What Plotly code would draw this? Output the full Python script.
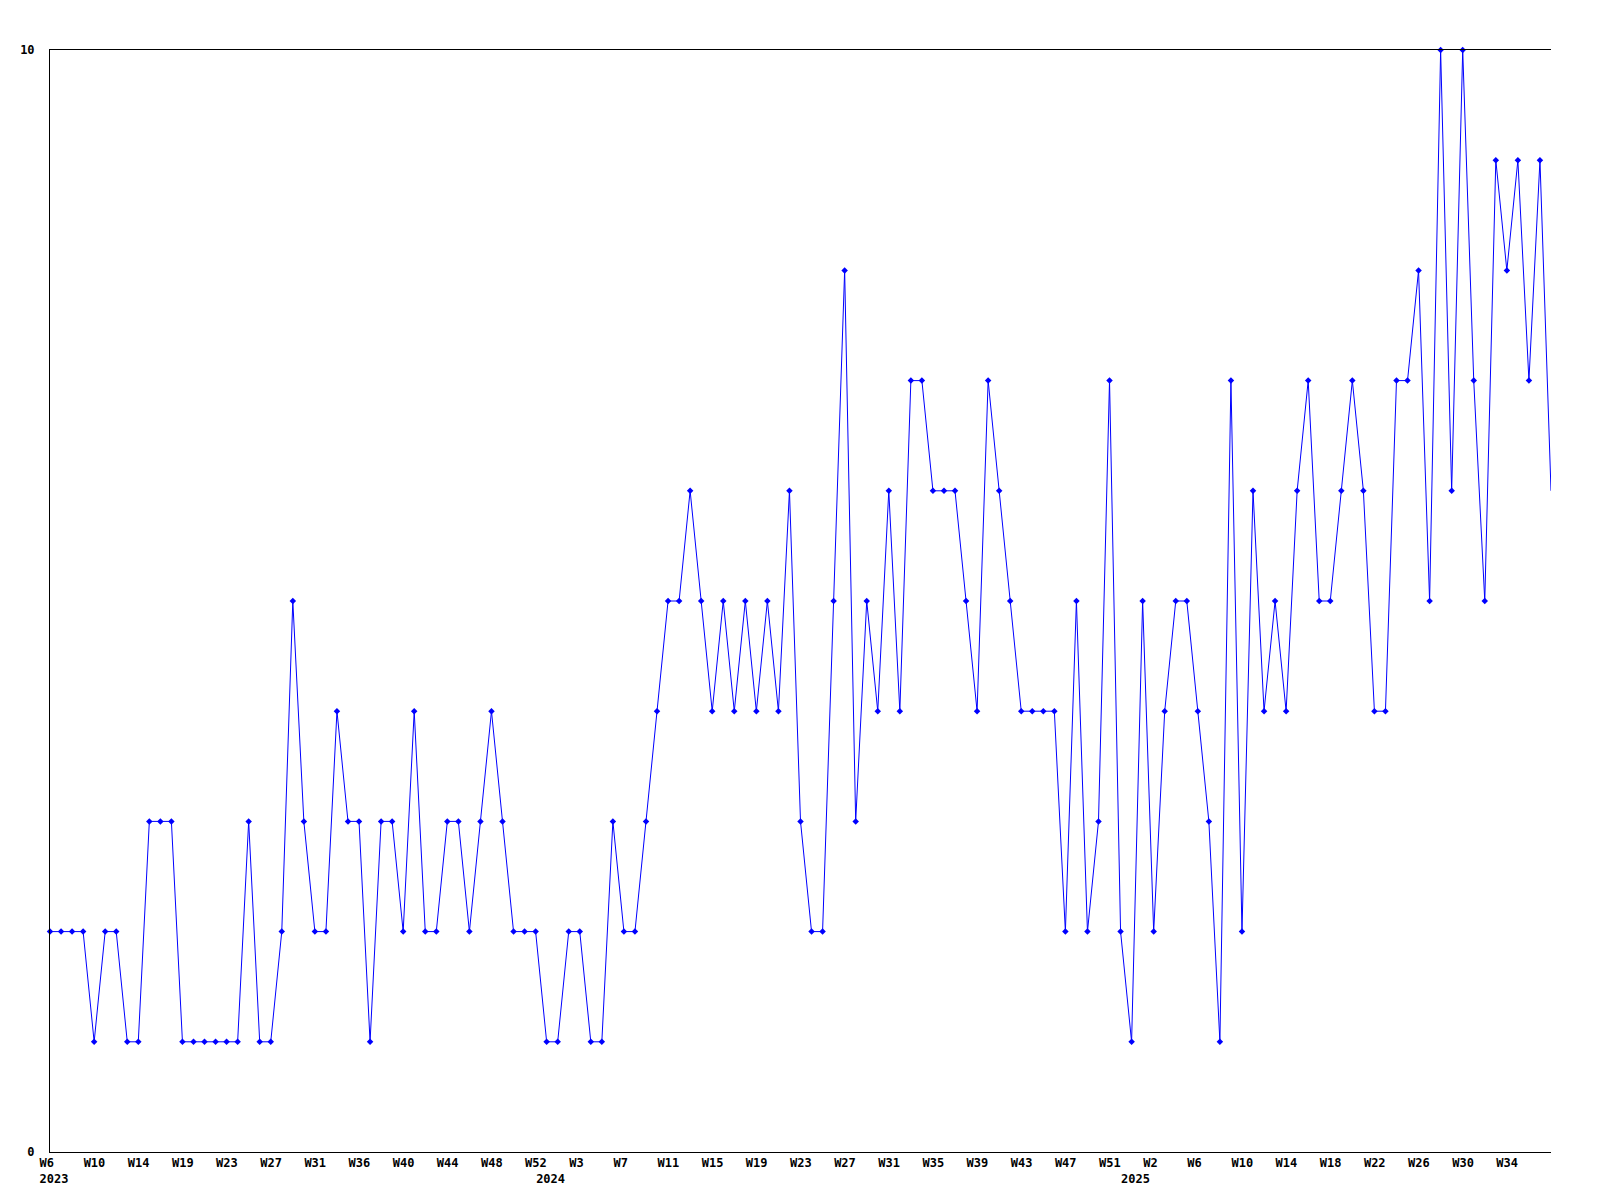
import plotly.graph_objects as go

# ---- data ----
values = [
    2, 2, 2, 2, 1, 2, 2, 1, 1, 3, 3, 3, 1, 1, 1, 1, 1, 1, 3, 1,
    1, 2, 5, 3, 2, 2, 4, 3, 3, 1, 3, 3, 2, 4, 2, 2, 3, 3, 2, 3,
    4, 3, 2, 2, 2, 1, 1, 2, 2, 1, 1, 3, 2, 2, 3, 4, 5, 5, 6, 5,
    4, 5, 4, 5, 4, 5, 4, 6, 3, 2, 2, 5, 8, 3, 5, 4, 6, 4, 7, 7,
    6, 6, 6, 5, 4, 7, 6, 5, 4, 4, 4, 4, 2, 5, 2, 3, 7, 2, 1, 5,
    2, 4, 5, 5, 4, 3, 1, 7, 2, 6, 4, 5, 4, 6, 7, 5, 5, 6, 7, 6,
    4, 4, 7, 7, 8, 5, 10, 6, 10, 7, 5, 9, 8, 9, 7, 9, 6,
]

week_labels = [
    "W6", "W10", "W14", "W19", "W23", "W27", "W31", "W36", "W40", "W44", "W48", "W52",
    "W3", "W7", "W11", "W15", "W19", "W23", "W27", "W31", "W35", "W39", "W43", "W47", "W51",
    "W2", "W6", "W10", "W14", "W18", "W22", "W26", "W30", "W34",
]
week_label_step = 4

year_labels = ["2023", "2024", "2025"]
year_positions = [0, 45, 98]

y_ticks = [0, 10]

# ---- build ticks ----
x = list(range(len(values)))
tick_map = {}
for i, w in enumerate(week_labels):
    tick_map[i * week_label_step] = w
for pos, yr in zip(year_positions, year_labels):
    if pos in tick_map:
        tick_map[pos] = tick_map[pos] + "<br>" + yr
    else:
        tick_map[pos] = "<br>" + yr
tickvals = sorted(tick_map)
ticktext = [tick_map[v] for v in tickvals]

font = dict(family="DejaVu Sans Mono", size=12, color="black", weight="bold")
blue = "#0000ff"

fig = go.Figure()
# full line
fig.add_trace(go.Scatter(
    x=x, y=values, mode="lines",
    line=dict(color=blue, width=1),
    showlegend=False, hoverinfo="skip",
))
# markers (the last, still open point carries no marker in the reference)
fig.add_trace(go.Scatter(
    x=x[:-1], y=values[:-1], mode="markers",
    marker=dict(symbol="diamond", size=5, color=blue),
    cliponaxis=False, showlegend=False,
))

# page body has an 8px margin, so the figure is sized/margined to compensate
fig.update_layout(
    width=1584, height=1184,
    margin=dict(l=42, r=41, t=42, b=40, autoexpand=False),
    paper_bgcolor="white", plot_bgcolor="white",
    font=font,
)
fig.update_xaxes(
    range=[0, len(values) - 1], tickmode="array", tickvals=tickvals, ticktext=ticktext,
    tickangle=0, ticks="", showline=True, linecolor="black", linewidth=1, mirror=True,
    showgrid=False, zeroline=False, ticklabelposition="outside right", ticklabelshift=-11,
    tickfont=font, automargin=False,
)
fig.update_yaxes(
    range=[0, 10], tickmode="array", tickvals=y_ticks, ticktext=[str(v) for v in y_ticks],
    ticks="", showline=True, linecolor="black", linewidth=1, mirror=False,
    showgrid=False, zeroline=False, ticklabelstandoff=12, tickfont=font, automargin=False,
)

fig.write_html("out.html")
